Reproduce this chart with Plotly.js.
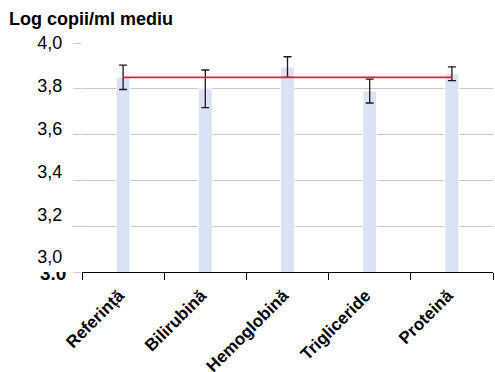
<!DOCTYPE html>
<html>
<head>
<meta charset="utf-8">
<script src="https://cdn.plot.ly/plotly-3.0.1.min.js"></script>
<style>
  html, body { margin: 0; padding: 0; background: #fff; }
  #chart { width: 495px; height: 372px; }
</style>
</head>
<body>
<div id="chart"></div>
<script>
// Mean log copies/ml per interferent, with their error bars
const categories = ['Referință', 'Bilirubină', 'Hemoglobină', 'Trigliceride', 'Proteină'];
const meanValues = [3.85, 3.80, 3.895, 3.79, 3.866];
const errorValues = [0.053, 0.082, 0.045, 0.052, 0.03];

// Reference level (mean of the reference sample)
const referenceLevel = 3.85;

// Y axis gridline values and their printed labels
const gridValues = [3.0, 3.2, 3.4, 3.6, 3.8, 4.0];
const tickLabels = ['3,0', '3,2', '3,4', '3,6', '3,8', '4,0'];

const FONT = 'Liberation Sans, Arial, sans-serif';

const bars = {
  type: 'bar',
  x: categories,
  y: meanValues,
  width: 0.17,
  marker: { color: '#dae3f3', line: { color: '#ffffff', width: 1 } },
  error_y: {
    type: 'data',
    array: errorValues,
    visible: true,
    color: '#1a1a1a',
    thickness: 1.3,
    width: 4
  },
  hoverinfo: 'skip',
  showlegend: false
};

const referenceLine = {
  type: 'scatter',
  mode: 'lines',
  x: categories,
  y: categories.map(() => referenceLevel),
  line: { color: '#d8203f', width: 1.6 },
  hoverinfo: 'skip',
  showlegend: false
};

// Printed labels sit on a slightly compressed scale relative to the gridlines
const labelStep = 0.187;
const labelPositions = gridValues.map((v, i) => 4.0 - (gridValues.length - 1 - i) * labelStep);

// Invisible trace that carries the label axis
const labelCarrier = {
  type: 'scatter',
  mode: 'markers',
  x: [categories[0]],
  y: [3.5],
  yaxis: 'y2',
  marker: { opacity: 0 },
  hoverinfo: 'skip',
  showlegend: false
};

const layout = {
  width: 495,
  height: 372,
  margin: { l: 82, r: 2, t: 43, b: 100, pad: 0 },
  paper_bgcolor: '#ffffff',
  plot_bgcolor: '#ffffff',
  font: { family: FONT, color: '#000000' },
  title: {
    text: 'Log copii/ml mediu',
    font: { family: FONT, size: 18, weight: 'bold', color: '#000000' },
    xref: 'container', x: 9 / 495, xanchor: 'left',
    yref: 'container', y: 1 - 19 / 372, yanchor: 'middle'
  },
  xaxis: {
    type: 'category',
    showline: true,
    linecolor: '#000000',
    linewidth: 1,
    ticks: 'outside',
    tickson: 'boundaries',
    ticklen: 7,
    tickcolor: '#000000',
    tickangle: -45,
    ticklabelstandoff: 6,
    ticklabelshift: -4,
    tickfont: { family: FONT, size: 17, weight: 'bold', color: '#000000' },
    showgrid: false,
    zeroline: false,
    fixedrange: true
  },
  yaxis: {
    range: [3.0, 4.0],
    tickvals: gridValues,
    showticklabels: false,
    ticks: 'outside',
    ticklen: 8,
    tickcolor: '#c8c8c8',
    showgrid: true,
    gridcolor: '#c8c8c8',
    gridwidth: 1,
    showline: false,
    zeroline: false,
    fixedrange: true
  },
  yaxis2: {
    overlaying: 'y',
    side: 'left',
    range: [3.0, 4.0],
    tickvals: labelPositions,
    ticktext: tickLabels,
    ticks: 'outside',
    ticklen: 15,
    tickcolor: 'rgba(0,0,0,0)',
    tickfont: { family: FONT, size: 18, color: '#000000' },
    showgrid: false,
    showline: false,
    zeroline: false,
    fixedrange: true
  },
  annotations: [
    {
      // bold axis-origin value, its upper part hidden by a fixed-height box
      text: '<b>3.0</b>',
      xref: 'paper', yref: 'paper',
      x: -15 / 411, y: 1 / 229,
      xanchor: 'right', yanchor: 'top',
      height: 12,
      valign: 'bottom',
      borderpad: 0,
      showarrow: false,
      font: { family: FONT, size: 19, color: '#000000' }
    }
  ],
  bargap: 0.2
};

Plotly.newPlot('chart', [bars, referenceLine, labelCarrier], layout, { displayModeBar: false, staticPlot: true });
</script>
</body>
</html>
